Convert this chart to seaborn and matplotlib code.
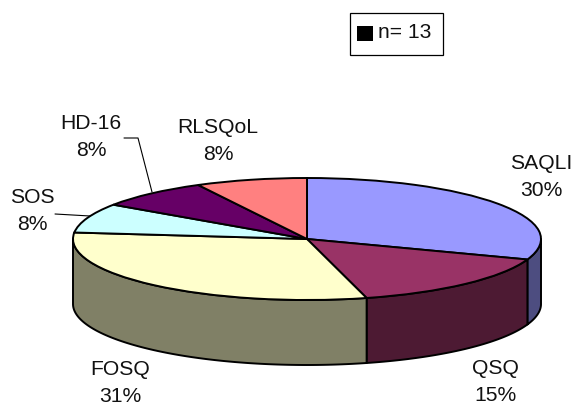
import numpy as np
import matplotlib
matplotlib.use("Agg")
import matplotlib.pyplot as plt
from matplotlib.patches import Rectangle
import seaborn as sns

questionnaires = ["SAQLI", "QSQ", "FOSQ", "SOS", "HD-16", "RLSQoL"]
shares = [30.45, 15.45, 30.8, 7.8, 7.8, 7.7]
slice_colors = ["#9999FF", "#993366", "#FFFFCC", "#CCFFFF", "#660066", "#FF8080"]
sample_label = "n= 13"

sns.set_theme(style="white")
plt.rcParams["font.family"] = ["Liberation Sans", "DejaVu Sans"]

W, H = 575, 408
CX, CY = 307.0, 239.0     # pie centre in pixels
RX, RY = 234.0, 61.0      # ellipse radii in pixels
DEPTH = 65.0 / RY         # wall height in axis units
EDGE = 1.4


def px(x, y):
    """Convert pixel coordinates (origin top-left) to axis units."""
    return (x - CX) / RX, (CY - y) / RY


fig = plt.figure(figsize=(W / 100, H / 100), dpi=100, facecolor="white")
ax = fig.add_axes([0, 0, 1, 1])

palette = sns.color_palette(slice_colors)
wall_colors = [tuple(c * 0.5 for c in col) for col in palette]

# Side walls, only where the rim faces the viewer
edges = np.cumsum([0] + shares) / sum(shares) * 360.0
for start, stop, wall in zip(edges[:-1], edges[1:], wall_colors):
    lo, hi = max(start, 90.0), min(stop, 270.0)
    if lo >= hi:
        continue
    theta = np.radians(np.linspace(lo, hi, 120))
    xs = np.sin(theta)
    ys = np.cos(theta)
    ax.fill(np.r_[xs, xs[::-1]], np.r_[ys, ys[::-1] - DEPTH],
            facecolor=wall, edgecolor="black", linewidth=EDGE, joinstyle="round")

# Top face of the pie
ax.pie(shares, colors=palette, startangle=90, counterclock=False, radius=1.0,
       wedgeprops={"edgecolor": "black", "linewidth": EDGE})

# The pie call forces a square data aspect; undo it so the disc reads as an ellipse
ax.set_aspect("auto")
x0, y1 = px(0, 0)
x1, y0 = px(W, H)
ax.set_xlim(x0, x1)
ax.set_ylim(y0, y1)
ax.axis("off")

# Slice labels
label_spots = [(541, 177), (495, 382), (120, 383), (32, 211), (91, 137), (218, 141)]
for name, share, (lx, ly) in zip(questionnaires, shares, label_spots):
    tx, ty = px(lx, ly)
    ax.text(tx, ty, f"{name}\n{share:.0f}%", ha="center", va="center",
            fontsize=15.2, color="#111111", linespacing=1.5)

# Leader lines for the two small left-hand slices
for path in ([(124, 138), (138, 138), (152, 192)], [(55, 214), (90, 216)]):
    pts = np.array([px(*p) for p in path])
    ax.plot(pts[:, 0], pts[:, 1], color="black", linewidth=0.8)

# Sample size key
lx0, ly0 = px(350, 55)
lx1, ly1 = px(443, 13)
ax.add_patch(Rectangle((lx0, ly0), lx1 - lx0, ly1 - ly0, facecolor="white",
                       edgecolor="black", linewidth=0.9))
sx0, sy0 = px(357, 41)
sx1, sy1 = px(373, 26)
ax.add_patch(Rectangle((sx0, sy0), sx1 - sx0, sy1 - sy0, facecolor="black", edgecolor="none"))
tx, ty = px(378, 33)
ax.text(tx, ty, sample_label, ha="left", va="center", fontsize=15.2, color="#111111")

fig.savefig("out.png", dpi=100, facecolor="white")
